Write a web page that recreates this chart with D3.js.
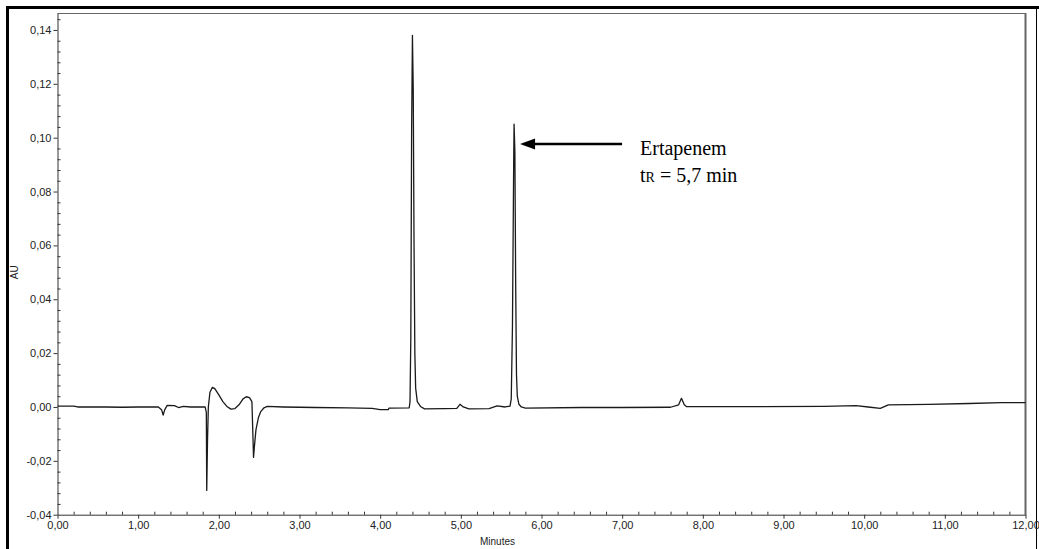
<!DOCTYPE html>
<html>
<head>
<meta charset="utf-8">
<script src="https://cdn.jsdelivr.net/npm/d3@7"></script>
<style>
  body { margin: 0; background: #fff; }
  svg { display: block; }
</style>
</head>
<body>
<svg width="1039" height="549"></svg>
<script>
// chromatogram trace (minutes, AU)
var times = [0.00, 0.20, 0.25, 0.60, 0.80, 1.00, 1.25, 1.29, 1.31, 1.33, 1.36, 1.45, 1.50, 1.56, 1.65,
             1.83, 1.845, 1.85, 1.86, 1.87, 1.89, 1.92, 1.95, 2.00, 2.05, 2.10, 2.15, 2.20, 2.25, 2.30,
             2.34, 2.38, 2.41, 2.42, 2.43, 2.44, 2.46, 2.49, 2.52, 2.56, 2.60, 2.80, 3.20, 3.60, 3.90,
             4.00, 4.10, 4.11, 4.36, 4.37, 4.38, 4.39, 4.40, 4.41, 4.42, 4.43, 4.44, 4.46, 4.50, 4.55,
             4.80, 4.95, 4.99, 5.03, 5.10, 5.35, 5.45, 5.55, 5.61, 5.625, 5.64, 5.655, 5.66, 5.67, 5.68,
             5.69, 5.70, 5.72, 5.75, 5.80, 6.50, 7.00, 7.60, 7.70, 7.735, 7.77, 7.80, 8.50, 9.50, 9.90,
             10.05, 10.20, 10.30, 10.80, 11.30, 11.70, 12.00];
var au = [0.0003, 0.0003, 0.0000, 0.0000, -0.0001, 0.0000, 0.0000, -0.0010, -0.0030, -0.0010, 0.0006, 0.0005, -0.0002, 0.0002, 0.0000,
          0.0000, -0.0020, -0.0310, -0.0120, 0.0000, 0.0055, 0.0073, 0.0068, 0.0045, 0.0020, 0.0002, -0.0008, -0.0006, 0.0008, 0.0030,
          0.0038, 0.0035, 0.0020, -0.0080, -0.0187, -0.0150, -0.0085, -0.0040, -0.0017, -0.0003, 0.0002, 0.0000, -0.0002, -0.0003, -0.0005,
          -0.0010, -0.0010, -0.0004, -0.0003, 0.0020, 0.0260, 0.1030, 0.1380, 0.1180, 0.0600, 0.0200, 0.0070, 0.0020, 0.0002, -0.0007,
          -0.0006, -0.0005, 0.0010, 0.0000, -0.0007, -0.0006, 0.0004, 0.0000, 0.0003, 0.0030, 0.0300, 0.0900, 0.1050, 0.0950, 0.0450,
          0.0120, 0.0040, 0.0010, 0.0000, -0.0004, -0.0002, -0.0002, -0.0001, 0.0008, 0.0032, 0.0008, 0.0001, 0.0001, 0.0002, 0.0005,
          0.0000, -0.0005, 0.0008, 0.0010, 0.0013, 0.0016, 0.0016];

var xTicks = [0, 1, 2, 3, 4, 5, 6, 7, 8, 9, 10, 11, 12];
var yTicks = [-0.04, -0.02, 0.00, 0.02, 0.04, 0.06, 0.08, 0.10, 0.12, 0.14];
var xDomain = [0, 12];
var yDomain = [-0.04, 0.1463];

var peakTime = 5.66;      // ertapenem peak
var peakArrowAu = 0.0977;
var labelLines = ["Ertapenem", "5,7 min"];

var svg = d3.select("svg");

var x = d3.scaleLinear().domain(xDomain).range([57.5, 1025.5]);
var y = d3.scaleLinear().domain(yDomain).range([514.7, 13]);

var comma = function(fmt) {
  return function(d) { return d3.format(fmt)(d).replace(".", ",").replace("−", "-"); };
};

// outer frame (top, left thick; right thin)
svg.append("path")
   .attr("d", "M7.5,549 L7.5,7.5 L1039,7.5")
   .attr("fill", "none")
   .attr("stroke", "#000")
   .attr("stroke-width", 3);
svg.append("line")
   .attr("x1", 1036.5).attr("x2", 1036.5)
   .attr("y1", 7).attr("y2", 549)
   .attr("stroke", "#000")
   .attr("stroke-width", 1);

// plot box top and right
svg.append("line")
   .attr("x1", x(0)).attr("x2", x(12))
   .attr("y1", y(yDomain[1]) + 0.5).attr("y2", y(yDomain[1]) + 0.5)
   .attr("stroke", "#666");
svg.append("line")
   .attr("x1", x(12)).attr("x2", x(12))
   .attr("y1", y(yDomain[1])).attr("y2", y(-0.04))
   .attr("stroke", "#666")
   .attr("stroke-width", 2);

// minor ticks (inside)
var yMinor = d3.range(-40, 146, 4).filter(function(v) { return v % 20 !== 0; }).map(function(v) { return v / 1000; });
var xMinor = d3.range(0, 121, 2).filter(function(v) { return v % 10 !== 0; }).map(function(v) { return v / 10; });

var yMinorAxis = d3.axisLeft(y).tickValues(yMinor).tickSize(-3).tickFormat("");
var xMinorAxis = d3.axisBottom(x).tickValues(xMinor).tickSize(-3).tickFormat("");

svg.append("g").attr("transform", "translate(" + x(0) + ",0)").call(yMinorAxis)
   .call(function(g) { g.select(".domain").remove(); g.selectAll("line").attr("stroke", "#333"); });
svg.append("g").attr("transform", "translate(0," + y(-0.04) + ")").call(xMinorAxis)
   .call(function(g) { g.select(".domain").remove(); g.selectAll("line").attr("stroke", "#333"); });

// major axes
var yAxis = d3.axisLeft(y).tickValues(yTicks).tickSizeInner(4).tickSizeOuter(0).tickPadding(2).tickFormat(comma(".2f"));
var xAxis = d3.axisBottom(x).tickValues(xTicks).tickSizeInner(4).tickSizeOuter(0).tickPadding(3).tickFormat(comma(".2f"));

var yg = svg.append("g").attr("transform", "translate(" + x(0) + ",0)").call(yAxis);
var xg = svg.append("g").attr("transform", "translate(0," + y(-0.04) + ")").call(xAxis);

[yg, xg].forEach(function(g) {
  g.attr("font-family", "'Liberation Sans', Arial, sans-serif").attr("font-size", 11);
  g.selectAll("line").attr("stroke", "#333");
  g.select(".domain").attr("stroke", "#333");
  g.selectAll("text").attr("fill", "#222");
});

// axis titles
svg.append("text")
   .attr("transform", "translate(18," + y(0.05) + ") rotate(-90)")
   .attr("text-anchor", "middle")
   .attr("font-family", "'Liberation Sans', Arial, sans-serif")
   .attr("font-size", 10)
   .attr("fill", "#222")
   .text("AU");
svg.append("text")
   .attr("x", x(6) - 44)
   .attr("y", 545)
   .attr("text-anchor", "middle")
   .attr("font-family", "'Liberation Sans', Arial, sans-serif")
   .attr("font-size", 10)
   .attr("fill", "#222")
   .text("Minutes");

// the trace
var pts = times.map(function(t, i) { return [t, au[i]]; });
var line = d3.line()
             .x(function(d) { return x(d[0]); })
             .y(function(d) { return y(d[1]); });

svg.append("path")
   .datum(pts)
   .attr("d", line)
   .attr("fill", "none")
   .attr("stroke", "#1a1a1a")
   .attr("stroke-width", 1.3)
   .attr("stroke-linejoin", "round");

// annotation arrow
var ax0 = x(peakTime) + 6;
var ax1 = ax0 + 102;
var ay = y(peakArrowAu);
svg.append("line")
   .attr("x1", ax0 + 12).attr("x2", ax1)
   .attr("y1", ay).attr("y2", ay)
   .attr("stroke", "#000")
   .attr("stroke-width", 2.5);
svg.append("path")
   .attr("d", "M" + ax0 + "," + ay + " L" + (ax0 + 15) + "," + (ay - 5.5) + " L" + (ax0 + 15) + "," + (ay + 5.5) + " Z")
   .attr("fill", "#000");

var lab = svg.append("text")
   .attr("font-family", "'Liberation Serif', 'Times New Roman', serif")
   .attr("font-size", 20)
   .attr("fill", "#000");
lab.append("tspan").attr("x", 640).attr("y", 155).text(labelLines[0]);
var l2 = lab.append("tspan").attr("x", 640).attr("y", 182);
l2.append("tspan").text("t");
l2.append("tspan").attr("font-size", 14).text("R");
l2.append("tspan").text(" = " + labelLines[1]);
</script>
</body>
</html>
